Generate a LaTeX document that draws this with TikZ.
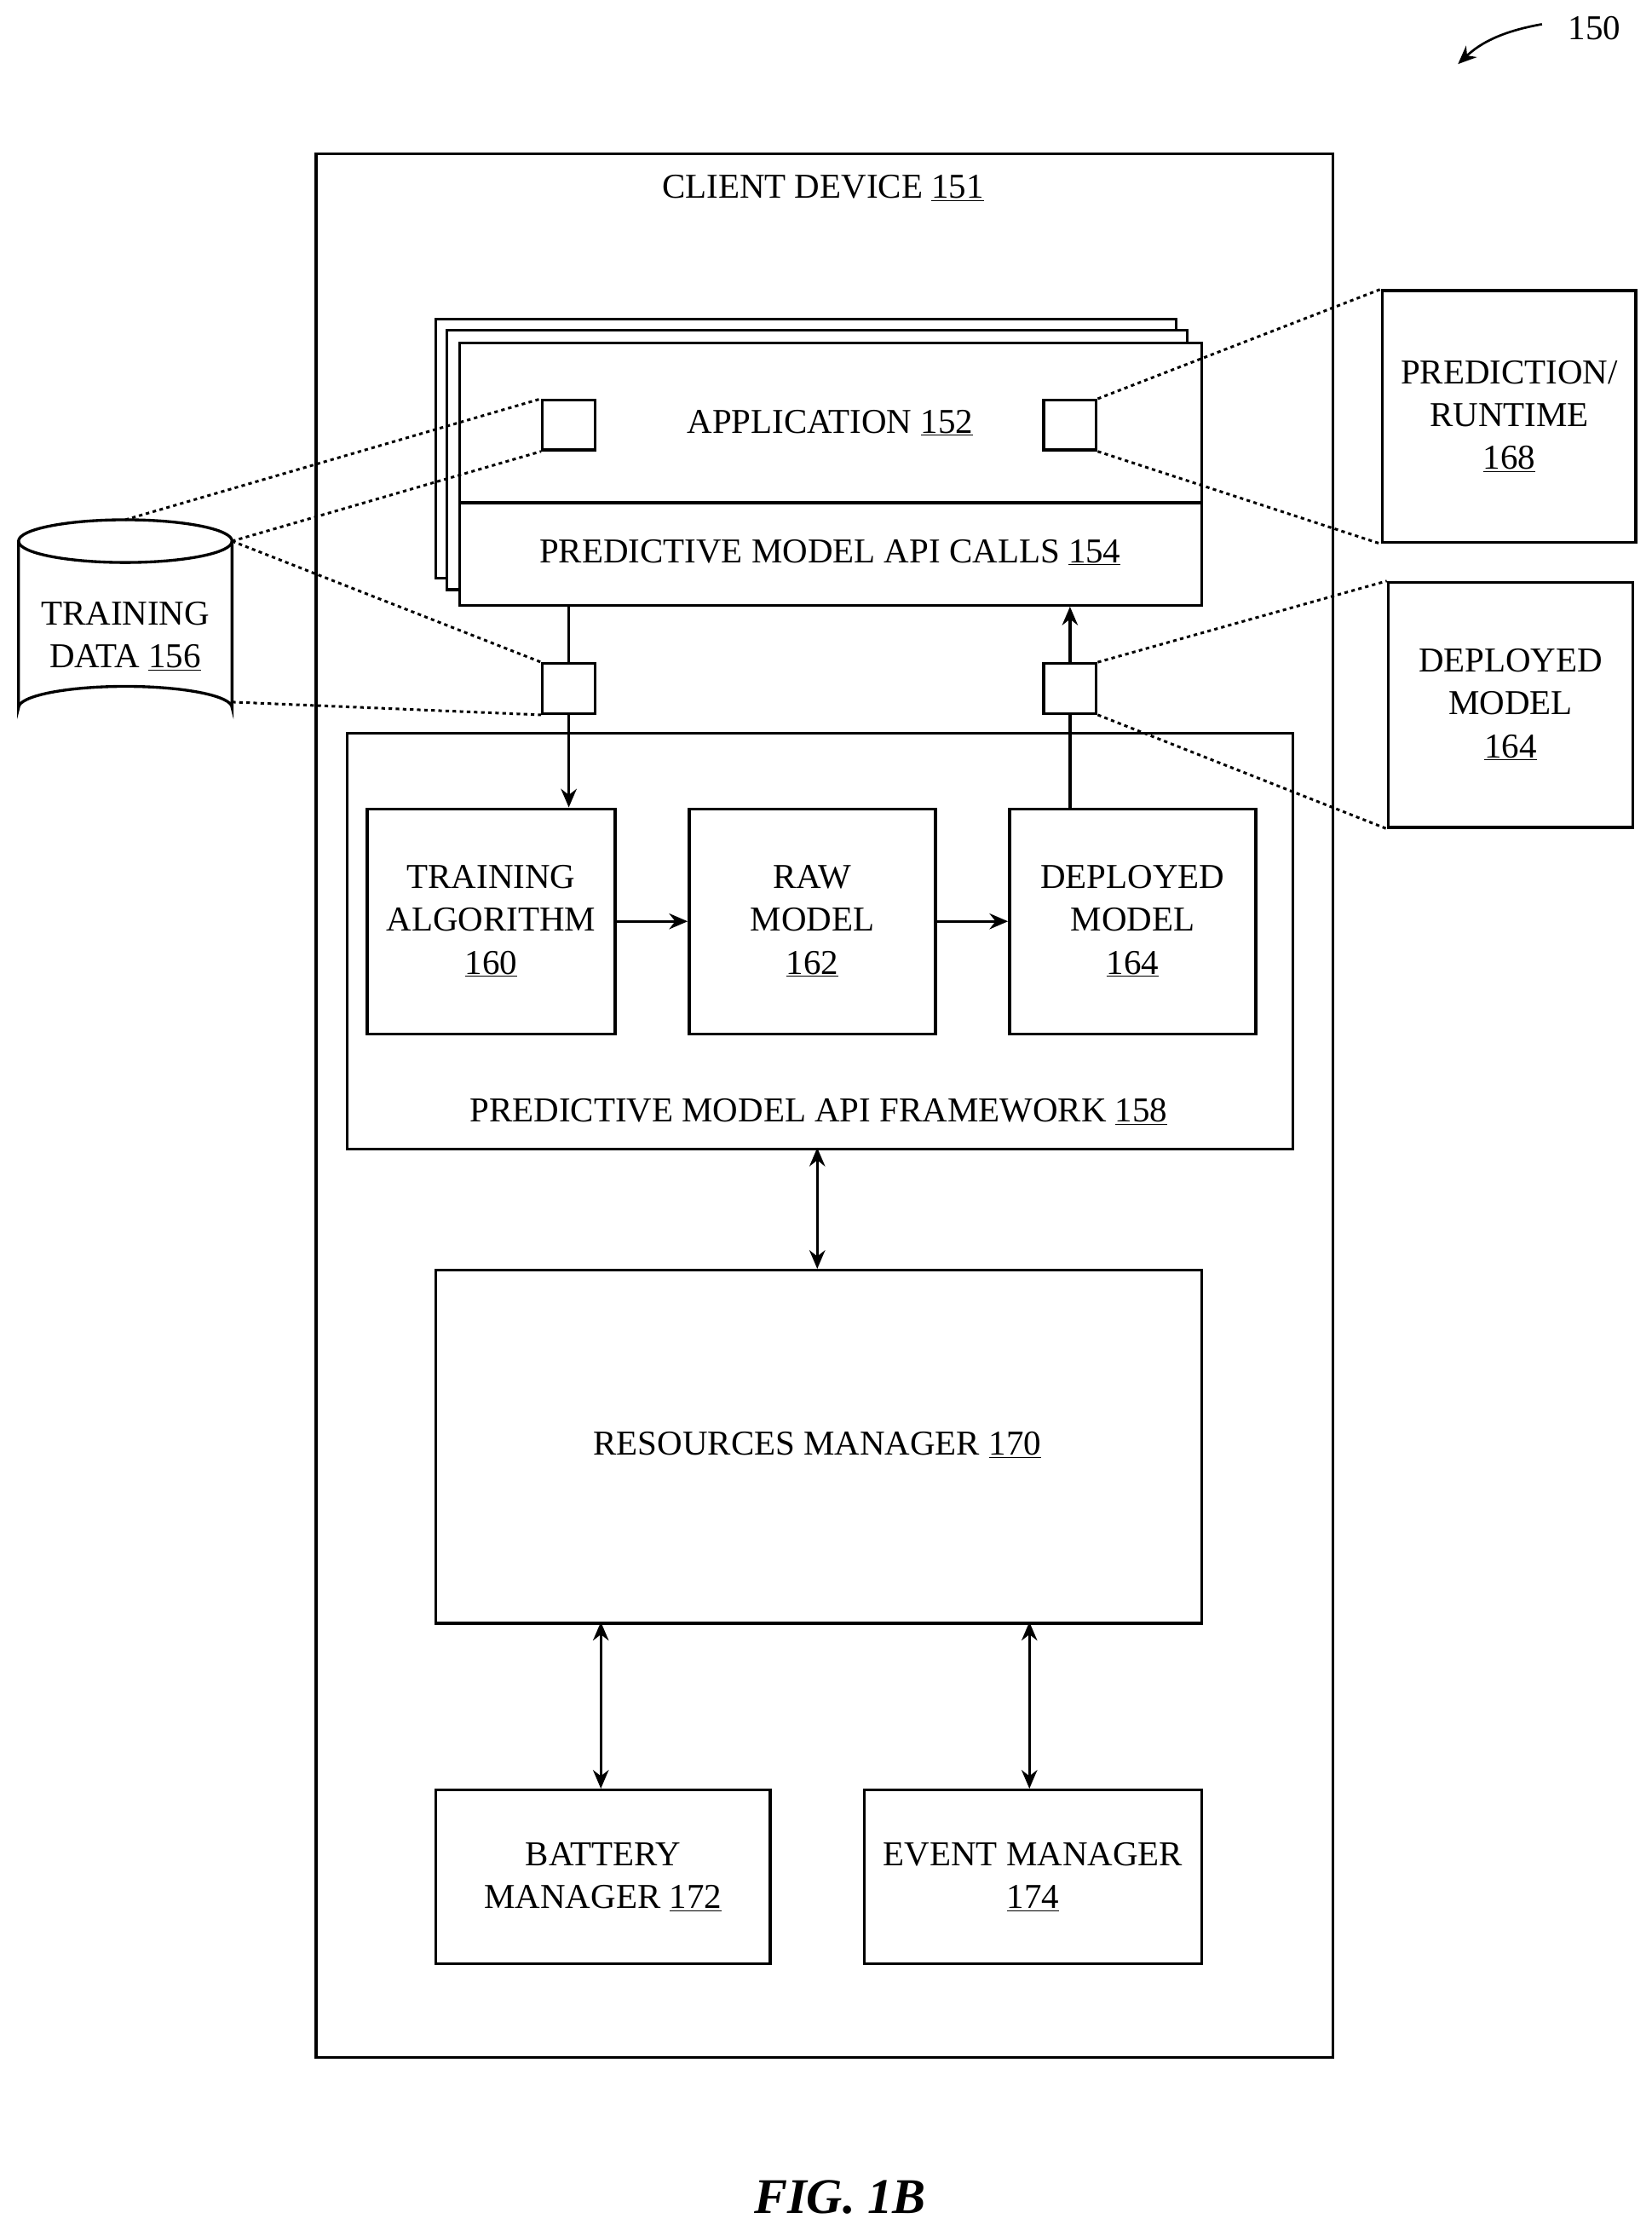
\documentclass[tikz,border=0pt]{standalone}
\usepackage{fontspec}
\setmainfont{Liberation Serif}
\usetikzlibrary{arrows.meta}
\begin{document}
\begin{tikzpicture}[x=1pt,y=-1pt,line width=2pt,
 box/.style={draw,rectangle,anchor=north west,inner sep=0pt,align=center,font=\fontsize{24.5}{30}\selectfont},
 lbl/.style={font=\fontsize{24.5}{30}\selectfont,align=center},
 arr/.style={-{Stealth[length=13pt,width=11pt]}},
 darr/.style={{Stealth[length=13pt,width=11pt]}-{Stealth[length=13pt,width=11pt]}},
 dot/.style={line width=1.8pt,dash pattern=on 2.5pt off 2.5pt},
 sq/.style={draw,rectangle,anchor=north west,minimum width=37pt,minimum height=35pt,inner sep=0pt,fill=white}]
\useasboundingbox (0,0) rectangle (1160,1566);
% outer
\node[box,minimum width=714pt,minimum height=1337pt] (client) at (221,107) {};
\node[lbl] (clientl) at (578,132) {CLIENT DEVICE \underline{151}};
% application stack
\node[box,fill=white,minimum width=520pt,minimum height=182pt] (p3) at (305,223) {};
\node[box,fill=white,minimum width=520pt,minimum height=182pt] (p2) at (313,231) {};
\node[box,fill=white,minimum width=521pt,minimum height=184pt] (app) at (322,240) {};
\draw (322,353) -- (843,353);
\node[lbl] (appl) at (583,297) {APPLICATION \underline{152}};
\node[lbl] (calls) at (583,388) {PREDICTIVE MODEL API CALLS \underline{154}};
% squares
\node[sq] (s1) at (380,280) {};
\node[sq] (s2) at (732,280) {};
\node[sq] (s3) at (380,465) {};
\node[sq] (s4) at (732,465) {};
% framework
\node[box,minimum width=664pt,minimum height=292pt] (fw) at (243,514) {};
\node[lbl] (fwl) at (575,781) {PREDICTIVE MODEL API FRAMEWORK \underline{158}};
\node[box,minimum width=174pt,minimum height=158pt] (ta) at (257,567) {TRAINING\\ALGORITHM\\\underline{160}};
\node[box,minimum width=173pt,minimum height=158pt] (raw) at (483,567) {RAW\\MODEL\\\underline{162}};
\node[box,minimum width=173pt,minimum height=158pt] (dep) at (708,567) {DEPLOYED\\MODEL\\\underline{164}};
\draw[arr] (ta.east) -- (raw.west);
\draw[arr] (raw.east) -- (dep.west);
\draw (s3.north |- app.south) -- (s3.north);
\draw[arr] (s3.south) -- (s3.south |- ta.north);
\draw (s4.south |- dep.north) -- (s4.south);
\draw[arr] (s4.north) -- (s4.north |- app.south);
% resources
\node[box,minimum width=538pt,minimum height=248pt] (res) at (305,891) {};
\node[lbl] (resl) at (574,1015) {RESOURCES MANAGER \underline{170}};
\draw[darr] (574,806) -- (574,891);
\node[box,minimum width=235pt,minimum height=122pt] (bat) at (305,1256) {BATTERY\\MANAGER \underline{172}};
\node[box,minimum width=237pt,minimum height=122pt] (ev) at (606,1256) {EVENT MANAGER\\\underline{174}};
\draw[darr] (422,1139) -- (422,1256);
\draw[darr] (723,1139) -- (723,1256);
% cylinder
\draw (13,380) -- (13,497) arc[start angle=180,end angle=360,x radius=75,y radius=15] -- (163,380);
\draw (88,380) ellipse[x radius=75,y radius=15];
\node[lbl] (td) at (88,447) {TRAINING\\DATA \underline{156}};
\coordinate (c1) at (88,365);
\coordinate (c2) at (163,380);
\coordinate (c3) at (163,493);
\draw[dot] (c1) -- (s1.north west);
\draw[dot] (c2) -- (s1.south west);
\draw[dot] (c2) -- (s3.north west);
\draw[dot] (c3) -- (s3.south west);
% right boxes
\node[box,minimum width=178pt,minimum height=177pt] (pred) at (970,203) {PREDICTION/\\RUNTIME\\\underline{168}};
\node[box,minimum width=172pt,minimum height=172pt] (dm) at (974,408) {DEPLOYED\\MODEL\\\underline{164}};
\draw[dot] (s2.north east) -- (pred.north west);
\draw[dot] (s2.south east) -- (pred.south west);
\draw[dot] (s4.north east) -- (dm.north west);
\draw[dot] (s4.south east) -- (dm.south west);
% ref
\node[lbl] (ref) at (1120,20) {150};
\coordinate (r1) at (1083,17);
\draw[arr,line width=1.6pt] (r1) .. controls (1055,22) and (1040,30) .. (1024,45);
\node[font=\fontsize{35}{40}\selectfont\bfseries\itshape] (fig) at (590,1543) {FIG. 1B};
\end{tikzpicture}
\end{document}
